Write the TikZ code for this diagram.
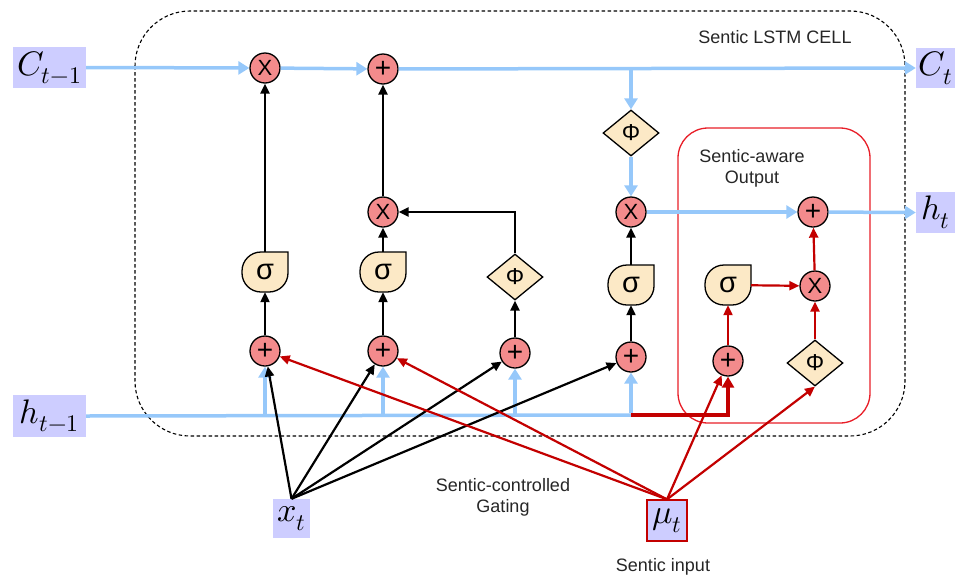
\documentclass[tikz,border=0pt]{standalone}
\usepackage{fontspec}
\usepackage{unicode-math}
\setmainfont{Liberation Sans}
\setmathfont{Latin Modern Math}
\usetikzlibrary{arrows.meta,shapes.geometric}

\definecolor{opfill}{RGB}{243,139,140}
\definecolor{actfill}{RGB}{252,233,198}
\definecolor{flowblue}{RGB}{150,200,250}
\definecolor{iobox}{RGB}{205,205,255}
\definecolor{sentred}{RGB}{195,0,0}
\definecolor{framered}{RGB}{232,30,40}

\tikzset{
  op/.style={circle, draw, line width=1.3pt, fill=opfill, minimum size=30pt, inner sep=0pt, font=\fontsize{22}{22}\selectfont},
  addop/.style={op, font=\fontsize{28}{28}\selectfont},
  actbox/.style={rectangle, minimum width=46pt, minimum height=40pt, inner sep=0pt, font=\fontsize{29}{29}\selectfont},
  actshape/.style={draw, line width=1.3pt, fill=actfill},
  tanhbox/.style={diamond, draw, line width=1.3pt, fill=actfill, minimum width=56pt, minimum height=46pt, inner sep=0pt, font=\fontsize{23}{23}\selectfont},
  io/.style={rectangle, fill=iobox, inner sep=0pt, font=\fontsize{34}{34}\selectfont},
  lbl/.style={font=\fontsize{18}{21}\selectfont, align=center, text=black!85},
  blk/.style={line width=2.2pt, -{Triangle[length=10pt,width=9pt]}},
  blu/.style={draw=flowblue, line width=3.5pt, -{Triangle[length=11pt,width=13pt]}},
  bluline/.style={draw=flowblue, line width=3.5pt},
  sred/.style={draw=sentred, line width=2.2pt, -{Triangle[length=10pt,width=9pt]}},
}

% sigmoid gate: rounded drop with a sharp top-right corner
\newcommand\gatenode[3]{%
  \draw[actshape] ([shift={(23,-20)}]#2,#3) -- ++(0,21)
    arc[start angle=0,end angle=90,radius=19] -- ++(-8,0)
    arc[start angle=90,end angle=180,radius=19] -- ++(0,-2)
    arc[start angle=180,end angle=270,radius=19] -- cycle;
  \node[actbox] (#1) at (#2,#3) {σ};
}

\begin{document}
\begin{tikzpicture}[x=1pt, y=-1pt]
\useasboundingbox (0,0) rectangle (962,579);

% frames
\draw[dash pattern=on 3.5pt off 2.5pt, line width=1.1pt, rounded corners=55pt] (135,11) rectangle (905,436);
\draw[framered, line width=1.3pt, rounded corners=30pt] (678,128) rectangle (870,423);
\node[lbl] (celltitle) at (775,37) {Sentic LSTM CELL};
\node[lbl] (outtitle) at (752,168) {Sentic-aware\\Output};
\node[lbl] (gatetitle) at (503,497) {Sentic-controlled\\Gating};
\node[lbl] (intitle) at (663,567) {Sentic input};

% inputs and outputs
\node[io, minimum width=73pt, minimum height=41pt] (cprev) at (49.5,67.5) {$C_{t-1}$};
\node[io, minimum width=73pt, minimum height=42pt] (hprev) at (49.5,416) {$h_{t-1}$};
\node[io, minimum width=39pt, minimum height=40pt] (cnext) at (935.5,68) {$C_t$};
\node[io, minimum width=39pt, minimum height=41pt] (hnext) at (935.5,212.5) {$h_t$};
\node[io, minimum width=37pt, minimum height=39pt] (xt) at (291.5,518.5) {$x_t$};
\node[io, draw=sentred, line width=1.3pt, minimum width=40pt, minimum height=41pt] (mut) at (667,520.5) {$\mu_t$};

% forget gate column
\node[op] (fmul) at (265,68) {X};
\gatenode{fsig}{265}{272}
\node[addop] (fsum) at (265,351) {+};

% input gate column
\node[addop] (cadd) at (383,69) {+};
\node[op] (imul) at (383,212) {X};
\gatenode{isig}{383}{272}
\node[addop] (isum) at (383,351) {+};

% candidate column
\node[tanhbox] (gtanh) at (515,277) {Φ};
\node[addop] (gsum) at (515,353) {+};

% output gate column
\node[tanhbox] (ctanh) at (631,133) {Φ};
\node[op] (omul) at (631,212) {X};
\gatenode{osig}{631}{285}
\node[addop] (osum) at (631,357) {+};

% sentic-aware output block
\node[addop] (hadd) at (813,212) {+};
\node[op] (smul) at (815,286) {X};
\gatenode{ssig}{728}{285}
\node[addop] (ssum) at (728,361) {+};
\node[tanhbox] (stanh) at (815,363) {Φ};

\coordinate (cbranch) at (631,68);
\coordinate (hend) at (631,415);

% cell state path
\draw[blu] (cprev.east) -- (fmul);
\draw[blu] (fmul) -- (cadd);
\draw[blu] (cadd) -- (cnext.west);
\draw[blu] (cbranch) -- (ctanh);
\draw[blu] (ctanh) -- (omul);
\draw[blu] (omul) -- (hadd);
\draw[blu] (hadd) -- (hnext.west);

% previous hidden state feeding every gate
\draw[bluline] (hprev.east) -- (hend);
\draw[blu] (fsum |- hend) -- (fsum);
\draw[blu] (isum |- hend) -- (isum);
\draw[blu] (gsum |- hend) -- (gsum);
\draw[blu] ([yshift=1.75pt]hend) -- (osum);
\draw[draw=sentred, line width=4.5pt, -{Triangle[length=11pt,width=12pt]}] (hend) -| (ssum);

% gate internals
\draw[blk] (fsum) -- (fsig);
\draw[blk] (fsig) -- (fmul);
\draw[blk] (isum) -- (isig);
\draw[blk] (isig) -- (imul);
\draw[blk] (imul) -- (cadd);
\draw[blk] (gsum) -- (gtanh);
\draw[blk] (gtanh.north) |- (imul.east);
\draw[blk] (osum) -- (osig);
\draw[blk] (osig) -- (omul);

% current input
\draw[blk] (xt.north) -- (fsum);
\draw[blk] (xt.north) -- (isum);
\draw[blk] (xt.north) -- (gsum);
\draw[blk] (xt.north) -- (osum);

% sentic input
\draw[sred] (mut.north) -- (fsum);
\draw[sred] (mut.north) -- (isum);
\draw[sred] (mut.north) -- (ssum);
\draw[sred] (mut.north) -- (stanh.south);
\draw[sred] (ssum) -- (ssig);
\draw[sred] (ssig) -- (smul);
\draw[sred] (stanh) -- (smul);
\draw[sred] (smul) -- (hadd);
\end{tikzpicture}
\end{document}
